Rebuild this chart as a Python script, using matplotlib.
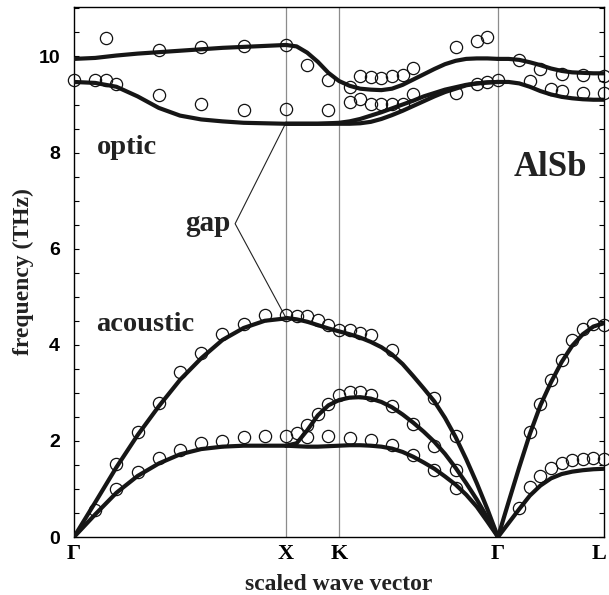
import numpy as np
import matplotlib
matplotlib.use("Agg")
import matplotlib.pyplot as plt
from matplotlib.ticker import MultipleLocator
from matplotlib.transforms import ScaledTranslation

# symmetry points (scaled wave vector)
sym_pos = [0.0, 1.0, 1.25, 2.0, 2.5]
sym_labels = ["\u0393", "X", "K", "\u0393", "L"]

# calculated branches, Gamma -> X
q_gx = [0.0, 0.1, 0.2, 0.3, 0.4, 0.5, 0.6, 0.7, 0.8, 0.9, 1.0]
ta_gx = [0, 0.47, 0.92, 1.27, 1.53, 1.72, 1.83, 1.88, 1.90, 1.90, 1.90]
la_gx = [0, 0.72, 1.45, 2.12, 2.72, 3.27, 3.72, 4.10, 4.35, 4.50, 4.55]
to_gx = [9.47, 9.45, 9.37, 9.17, 8.93, 8.77, 8.69, 8.65, 8.62, 8.61, 8.60]
lo_gx = [9.95, 9.97, 10.02, 10.06, 10.09, 10.12, 10.15, 10.18, 10.20, 10.22, 10.24]

# X -> K -> Gamma
q_xg = [1.0, 1.05, 1.1, 1.15, 1.2, 1.25, 1.3, 1.35, 1.4, 1.45, 1.5,
        1.55, 1.6, 1.65, 1.7, 1.75, 1.8, 1.85, 1.9, 1.95, 2.0]
ta1_xg = [1.90, 1.89, 1.88, 1.88, 1.89, 1.90, 1.91, 1.91, 1.90, 1.88, 1.84,
          1.77, 1.67, 1.55, 1.42, 1.26, 1.09, 0.88, 0.63, 0.32, 0]
ta2_xg = [1.90, 1.95, 2.22, 2.53, 2.74, 2.85, 2.90, 2.91, 2.88, 2.81, 2.70,
          2.55, 2.38, 2.19, 1.98, 1.73, 1.44, 1.12, 0.78, 0.40, 0]
la_xg = [4.56, 4.53, 4.48, 4.41, 4.34, 4.28, 4.22, 4.15, 4.06, 3.95, 3.80,
         3.60, 3.35, 3.09, 2.82, 2.48, 2.08, 1.62, 1.12, 0.58, 0]
to1_xg = [8.60, 8.60, 8.60, 8.60, 8.61, 8.62, 8.65, 8.70, 8.77, 8.84, 8.92,
          9.00, 9.08, 9.17, 9.24, 9.31, 9.36, 9.41, 9.44, 9.46, 9.47]
to2_xg = [8.60, 8.60, 8.60, 8.60, 8.60, 8.60, 8.60, 8.61, 8.64, 8.70, 8.78,
          8.87, 8.97, 9.07, 9.17, 9.26, 9.33, 9.40, 9.44, 9.46, 9.47]
lo_xg = [10.24, 10.21, 10.08, 9.89, 9.66, 9.49, 9.39, 9.33, 9.31, 9.30, 9.33,
         9.41, 9.52, 9.63, 9.74, 9.84, 9.91, 9.95, 9.96, 9.96, 9.95]

# Gamma -> L
q_gl = [2.0, 2.05, 2.1, 2.15, 2.2, 2.25, 2.3, 2.35, 2.4, 2.45, 2.5]
ta_gl = [0, 0.29, 0.58, 0.86, 1.07, 1.22, 1.31, 1.36, 1.39, 1.41, 1.42]
la_gl = [0, 0.73, 1.45, 2.14, 2.74, 3.22, 3.64, 3.98, 4.22, 4.38, 4.45]
to_gl = [9.47, 9.47, 9.44, 9.37, 9.28, 9.21, 9.16, 9.13, 9.11, 9.10, 9.10]
lo_gl = [9.95, 9.95, 9.93, 9.88, 9.82, 9.75, 9.70, 9.67, 9.66, 9.65, 9.65]

# measured points
exp_q = [0.10, 0.20, 0.30, 0.40, 0.50, 0.60, 0.70, 0.80, 0.90, 1.00,
         0.20, 0.30, 0.40, 0.50, 0.60, 0.70, 0.80, 0.90, 1.00,
         1.05, 1.10, 1.15, 1.20, 1.25, 1.30, 1.35, 1.40, 1.50, 1.70, 1.80,
         1.05, 1.10, 1.15, 1.20, 1.25, 1.30, 1.35, 1.40, 1.50, 1.60, 1.70, 1.80,
         1.10, 1.20, 1.30, 1.40, 1.50, 1.60, 1.70, 1.80,
         2.15, 2.20, 2.25, 2.30, 2.35, 2.40, 2.45, 2.50,
         2.10, 2.15, 2.20, 2.25, 2.30, 2.35, 2.40, 2.45, 2.50,
         0.15, 0.40, 0.60, 0.80, 1.00,
         0.00, 0.10, 0.15, 0.20, 0.40, 0.60, 0.80, 1.00,
         1.10, 1.20, 1.20, 1.30, 1.35, 1.40, 1.45, 1.50, 1.55, 1.60, 1.80, 1.90, 1.95,
         1.30, 1.35, 1.40, 1.45, 1.50, 1.55, 1.60, 1.80, 1.90, 1.95, 2.00,
         2.10, 2.15, 2.20, 2.25, 2.30, 2.30, 2.40, 2.40, 2.50, 2.50]
exp_f = [0.56, 1.52, 2.19, 2.78, 3.44, 3.83, 4.22, 4.44, 4.61, 4.62,
         0.99, 1.35, 1.65, 1.81, 1.95, 2.00, 2.09, 2.10, 2.10,
         4.60, 4.59, 4.51, 4.42, 4.31, 4.31, 4.24, 4.21, 3.90, 2.90, 2.10,
         2.16, 2.33, 2.56, 2.76, 2.96, 3.01, 3.01, 2.96, 2.72, 2.35, 1.90, 1.40,
         2.09, 2.10, 2.07, 2.01, 1.92, 1.71, 1.40, 1.01,
         2.19, 2.77, 3.27, 3.69, 4.10, 4.33, 4.44, 4.42,
         0.60, 1.05, 1.26, 1.43, 1.53, 1.60, 1.62, 1.64, 1.62,
         10.39, 10.13, 10.20, 10.22, 10.24,
         9.51, 9.51, 9.51, 9.42, 9.19, 9.01, 8.88, 8.91,
         9.83, 9.52, 8.88, 9.37, 9.60, 9.57, 9.55, 9.59, 9.61, 9.76, 10.20, 10.32, 10.41,
         9.05, 9.12, 9.01, 9.01, 9.01, 9.01, 9.22, 9.24, 9.42, 9.47, 9.51,
         9.92, 9.49, 9.73, 9.33, 9.64, 9.29, 9.61, 9.24, 9.59, 9.24]

serif = "Liberation Serif"
sans = "Liberation Sans"

fig = plt.figure(figsize=(6.09, 5.95), dpi=100)
ax = fig.add_axes([74 / 609, 58 / 595, 530 / 609, 530 / 595])

for xv in sym_pos[1:4]:
    ax.axvline(xv, color="#8c8c8c", lw=0.9, zorder=1)

curve_kw = dict(color="#161616", lw=3.0, solid_capstyle="round", zorder=3)
for ys in [ta_gx, la_gx, to_gx, lo_gx]:
    ax.plot(q_gx, ys, **curve_kw)
for ys in [ta1_xg, ta2_xg, la_xg, to1_xg, to2_xg, lo_xg]:
    ax.plot(q_xg, ys, **curve_kw)
for ys in [ta_gl, la_gl, to_gl, lo_gl]:
    ax.plot(q_gl, ys, **curve_kw)

ax.plot(exp_q, exp_f, "o", ms=8.8, mfc="none", mec="#111111", mew=0.9,
        zorder=4, clip_on=False)

# gap annotation lines
ax.plot([0.995, 0.76, 0.995], [8.58, 6.52, 4.60], color="#222222", lw=0.8, zorder=2)

txt_kw = dict(family=serif, fontweight="bold", color="#222222")
ax.text(0.108, 7.98, "optic", fontsize=20.5, va="baseline", ha="left", **txt_kw)
ax.text(0.104, 4.28, "acoustic", fontsize=20.5, va="baseline", ha="left", **txt_kw)
ax.text(0.736, 6.36, "gap", fontsize=21, va="baseline", ha="right", **txt_kw)
ax.text(2.072, 7.51, "AlSb", fontsize=25, va="baseline", ha="left", **txt_kw)

ax.set_xlim(0, 2.5)
ax.set_ylim(0, 11.03)
ax.set_xticks(sym_pos)
ax.set_xticklabels(sym_labels, family=serif, fontweight="bold", fontsize=16)
ax.tick_params(axis="x", length=0, pad=5)
# keep the L label inside the figure edge
last = ax.get_xticklabels()[-1]
last.set_transform(last.get_transform() + ScaledTranslation(-5 / 100, 0, fig.dpi_scale_trans))
ax.yaxis.set_major_locator(MultipleLocator(2))
ax.yaxis.set_minor_locator(MultipleLocator(0.5))
ax.tick_params(axis="y", which="both", direction="in", length=3.6, width=0.8,
               right=True, pad=10)
for lab in ax.get_yticklabels():
    lab.set_family(sans)
    lab.set_fontweight("bold")
    lab.set_fontsize(14)
for sp in ax.spines.values():
    sp.set_linewidth(1.0)

fig.text(23 / 609, 0.5 * (588 + 58) / 595, "frequency (THz)", rotation=90,
         ha="center", va="center", fontsize=17, **txt_kw)
fig.text(339 / 609, 11 / 595, "scaled wave vector", ha="center", va="center",
         fontsize=17, **txt_kw)

fig.savefig("out.png", dpi=100)
